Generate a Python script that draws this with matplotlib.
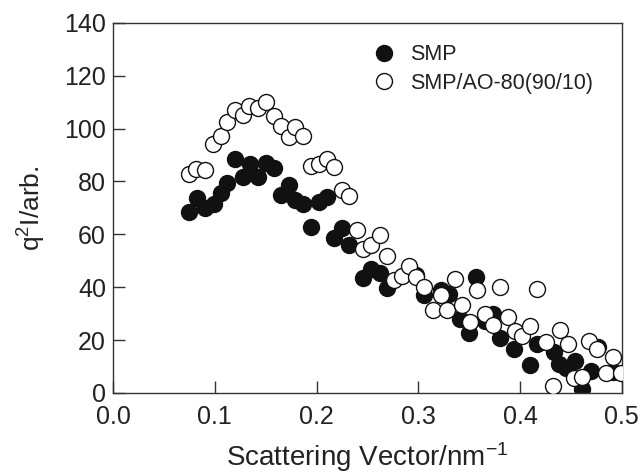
import matplotlib
matplotlib.use("Agg")
import matplotlib.pyplot as plt

plt.rcParams['font.family'] = ['Liberation Sans', 'DejaVu Sans']
plt.rcParams['mathtext.default'] = 'regular'

# SMP (filled circles)
smp_q = [0.075, 0.083, 0.090, 0.099, 0.106, 0.112, 0.120, 0.128, 0.135, 0.142,
         0.150, 0.158, 0.165, 0.173, 0.179, 0.187, 0.195, 0.202, 0.210, 0.217,
         0.225, 0.232, 0.246, 0.254, 0.262, 0.269, 0.298, 0.306, 0.322, 0.330,
         0.341, 0.350, 0.357, 0.366, 0.373, 0.380, 0.394, 0.410, 0.417, 0.433,
         0.438, 0.445, 0.454, 0.461, 0.470, 0.477, 0.491]
smp_i = [68.4, 73.9, 69.9, 71.6, 75.6, 79.4, 88.6, 81.7, 86.7, 81.7,
         87.1, 85.1, 74.7, 78.5, 73.1, 71.6, 62.7, 72.2, 74.1, 58.7,
         62.4, 56.1, 43.6, 47.0, 45.3, 39.8, 44.7, 36.9, 38.8, 37.5,
         27.8, 22.7, 43.8, 27.4, 29.9, 20.8, 16.7, 10.4, 18.6, 15.4,
         11.0, 9.3, 12.0, 1.5, 8.5, 17.3, 7.8]

# SMP/AO-80(90/10) (open circles)
ao_q = [0.075, 0.082, 0.090, 0.098, 0.106, 0.112, 0.120, 0.128, 0.134, 0.142,
        0.150, 0.158, 0.165, 0.173, 0.179, 0.187, 0.195, 0.202, 0.210, 0.217,
        0.225, 0.232, 0.240, 0.246, 0.254, 0.262, 0.269, 0.276, 0.284, 0.291,
        0.298, 0.306, 0.314, 0.322, 0.328, 0.336, 0.343, 0.351, 0.358, 0.366,
        0.373, 0.380, 0.388, 0.395, 0.402, 0.410, 0.417, 0.425, 0.432, 0.439,
        0.447, 0.453, 0.461, 0.468, 0.476, 0.484, 0.491, 0.499]
ao_i = [82.9, 84.8, 84.5, 94.1, 97.1, 102.4, 106.9, 105.0, 108.4, 107.9,
        110.2, 104.7, 100.9, 96.8, 100.6, 97.1, 85.8, 86.5, 88.6, 85.5,
        76.6, 74.4, 61.5, 54.5, 55.8, 59.6, 51.8, 42.8, 44.4, 48.0,
        43.8, 40.0, 31.2, 36.9, 31.4, 43.2, 33.1, 26.8, 39.0, 29.9,
        25.8, 40.0, 28.9, 23.6, 21.7, 25.5, 39.4, 19.4, 2.8, 23.9,
        18.6, 5.6, 5.9, 19.6, 16.7, 7.4, 13.5, 7.4]

xticks = [0.0, 0.1, 0.2, 0.3, 0.4, 0.5]
yticks = [0, 20, 40, 60, 80, 100, 120, 140]

fig = plt.figure(figsize=(6.4, 4.74), dpi=100)
ax = fig.add_axes([0.1766, 0.1709, 0.795, 0.781])

ax.plot(smp_q, smp_i, 'o', ms=11.5, mfc='#111111', mec='#111111', mew=1.0,
        label='SMP', zorder=2)
ax.plot(ao_q, ao_i, 'o', ms=11.5, mfc='white', mec='#111111', mew=1.0,
        label='SMP/AO-80(90/10)', zorder=3)

ax.set_xlim(0, 0.5)
ax.set_ylim(0, 140)
ax.set_xticks(xticks)
ax.set_yticks(yticks)
ax.set_xticklabels([f"{v:.1f}" for v in xticks])
ax.tick_params(direction='in', length=8.5, width=1, labelsize=18,
               colors='#333333', labelcolor='#222222')
ax.tick_params(axis='x', pad=9)
ax.tick_params(axis='y', pad=5)
for s in ax.spines.values():
    s.set_linewidth(1.0)
    s.set_color('#333333')

ax.set_xlabel('Scattering Vector/nm$^{-1}$', fontsize=20, labelpad=8,
              color='#222222')
ax.set_ylabel('q$^{2}$I/arb.', fontsize=19, labelpad=12, color='#222222')

ax.legend(loc='upper left', bbox_to_anchor=(0.49, 0.965), frameon=False,
          fontsize=15.5, numpoints=1, handlelength=1.2, handletextpad=0.6,
          labelspacing=0.35, borderaxespad=0, labelcolor='#222222')

fig.savefig('out.png', dpi=100)
